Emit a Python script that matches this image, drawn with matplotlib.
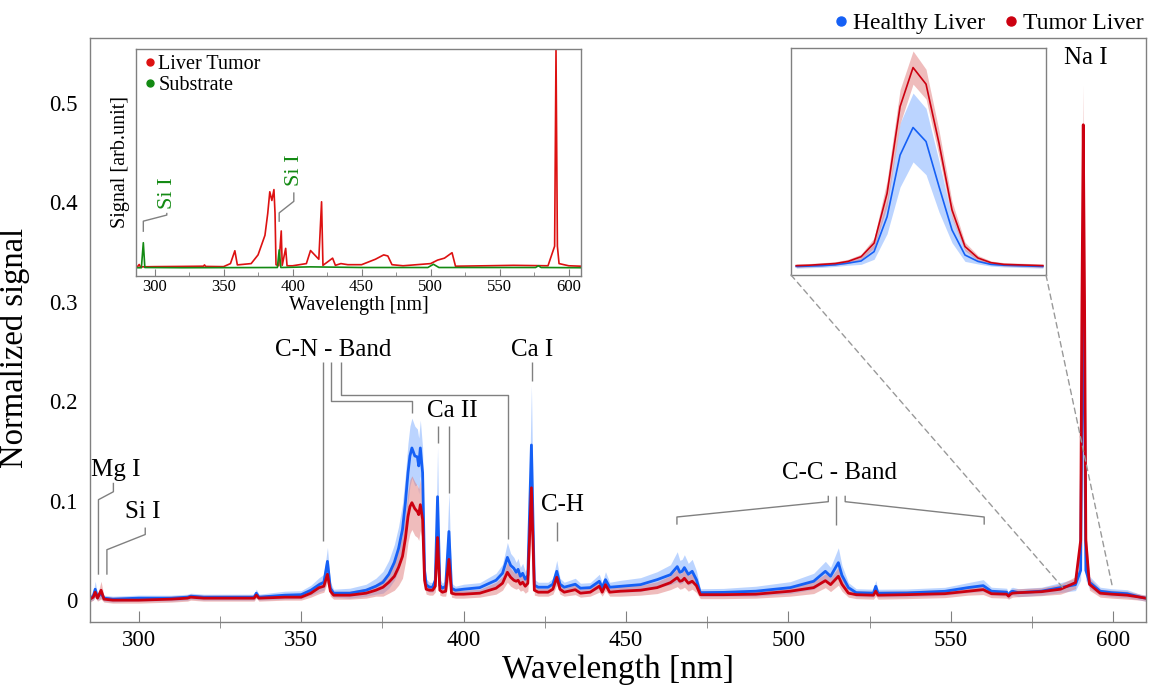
import numpy as np
import matplotlib
matplotlib.use("Agg")
import matplotlib.pyplot as plt
from matplotlib.lines import Line2D
from matplotlib.patches import ConnectionPatch

plt.rcParams['font.family'] = ['Liberation Serif', 'DejaVu Serif']

# ---- main spectra: mean +/- std (normalized signal) ----
wl = [285.0, 286.0, 286.6, 287.3, 288.4, 289.3, 292.0, 300.0, 310.0, 315.0, 316.0, 320.0, 330.0, 335.5, 336.2, 337.0,
      345.0, 350.0, 353.0, 355.5, 357.0, 358.1, 359.0, 360.0, 365.0, 370.0, 373.0, 375.2, 377.0, 378.7, 380.0, 381.2,
      382.1, 382.9, 383.5, 384.1, 385.0, 385.8, 386.2, 386.7, 387.4, 388.0, 388.5, 389.5, 390.5, 391.3, 392.0, 392.7,
      393.5, 394.5, 395.5, 396.3, 397.5, 400.0, 405.0, 410.0, 412.0, 413.5, 414.5, 415.5, 416.2, 416.8, 417.5, 418.2,
      419.0, 419.8, 420.9, 421.8, 423.0, 426.0, 427.5, 428.7, 429.7, 431.0, 434.4, 436.0, 439.0, 441.8, 442.7, 443.7,
      445.0, 448.3, 454.5, 459.6, 463.7, 465.8, 466.6, 467.3, 468.0, 469.2, 470.4, 471.7, 472.9, 480.0, 490.0, 500.6,
      507.8, 511.4, 513.0, 515.4, 516.5, 518.5, 520.9, 526.2, 526.9, 527.6, 536.4, 548.2, 555.3, 560.0, 562.5, 567.2,
      567.8, 568.4, 569.0, 570.8, 577.9, 583.8, 588.4, 590.0, 590.4, 590.8, 591.2, 591.6, 592.7, 596.0, 599.5, 604.3,
      608.3, 610.0]
healthy = [0.002, 0.004, 0.011, 0.003, 0.007, 0.002, 0.001, 0.002, 0.002, 0.003, 0.004, 0.003, 0.003, 0.003, 0.007, 0.003,
           0.005, 0.0055, 0.010, 0.0155, 0.018, 0.039, 0.012, 0.007, 0.007, 0.010, 0.014, 0.018, 0.026, 0.038, 0.052, 0.071,
           0.098, 0.128, 0.145, 0.153, 0.145, 0.144, 0.135, 0.153, 0.128, 0.030, 0.0156, 0.013, 0.013, 0.020, 0.104, 0.015,
           0.012, 0.014, 0.069, 0.012, 0.010, 0.011, 0.0126, 0.020, 0.027, 0.043, 0.035, 0.032, 0.028, 0.031, 0.024, 0.027,
           0.021, 0.025, 0.156, 0.015, 0.013, 0.013, 0.016, 0.029, 0.016, 0.013, 0.016, 0.012, 0.0126, 0.019, 0.0126, 0.0206,
           0.013, 0.0139, 0.0156, 0.0206, 0.0256, 0.0337, 0.028, 0.029, 0.0327, 0.026, 0.029, 0.0206, 0.0075, 0.0078, 0.009, 0.0126,
           0.019, 0.029, 0.024, 0.0377, 0.025, 0.0126, 0.0075, 0.007, 0.0139, 0.007, 0.0072, 0.0089, 0.0126, 0.0146, 0.009, 0.008,
           0.0045, 0.008, 0.009, 0.0075, 0.009, 0.0126, 0.0156, 0.030, 0.200, 0.339, 0.200, 0.030, 0.018, 0.009, 0.0075, 0.0065,
           0.003, 0.002]
healthy_sd = [0.003, 0.004, 0.008, 0.003, 0.005, 0.003, 0.003, 0.003, 0.003, 0.003, 0.003, 0.003, 0.003, 0.003, 0.004, 0.003,
              0.004, 0.004, 0.005, 0.007, 0.008, 0.014, 0.006, 0.004, 0.005, 0.006, 0.008, 0.011, 0.014, 0.018, 0.022, 0.026,
              0.028, 0.030, 0.030, 0.030, 0.030, 0.028, 0.028, 0.028, 0.025, 0.008, 0.006, 0.005, 0.005, 0.008, 0.050, 0.006,
              0.005, 0.006, 0.040, 0.005, 0.004, 0.005, 0.005, 0.007, 0.009, 0.015, 0.012, 0.011, 0.010, 0.011, 0.009, 0.010,
              0.008, 0.009, 0.060, 0.006, 0.005, 0.005, 0.006, 0.011, 0.006, 0.005, 0.006, 0.005, 0.005, 0.007, 0.005, 0.008,
              0.005, 0.006, 0.007, 0.008, 0.010, 0.015, 0.012, 0.012, 0.013, 0.011, 0.012, 0.009, 0.004, 0.004, 0.005, 0.006,
              0.008, 0.010, 0.009, 0.015, 0.010, 0.005, 0.004, 0.004, 0.006, 0.004, 0.004, 0.004, 0.005, 0.006, 0.004, 0.004,
              0.003, 0.004, 0.004, 0.004, 0.004, 0.005, 0.006, 0.010, 0.050, 0.080, 0.050, 0.010, 0.006, 0.004, 0.004, 0.004,
              0.003, 0.003]
tumor = [0.001, 0.003, 0.008, 0.002, 0.010, 0.001, 0.000, 0.000, 0.001, 0.002, 0.003, 0.002, 0.002, 0.002, 0.005, 0.002,
         0.003, 0.003, 0.007, 0.0125, 0.014, 0.026, 0.009, 0.005, 0.005, 0.007, 0.010, 0.013, 0.018, 0.024, 0.033, 0.044,
         0.062, 0.084, 0.094, 0.098, 0.092, 0.089, 0.086, 0.096, 0.081, 0.020, 0.011, 0.010, 0.010, 0.014, 0.063, 0.010,
         0.008, 0.009, 0.041, 0.007, 0.006, 0.006, 0.007, 0.012, 0.017, 0.028, 0.023, 0.020, 0.019, 0.020, 0.016, 0.018,
         0.014, 0.017, 0.113, 0.010, 0.008, 0.008, 0.011, 0.023, 0.011, 0.008, 0.0105, 0.007, 0.008, 0.014, 0.008, 0.0156,
         0.008, 0.009, 0.010, 0.0126, 0.0176, 0.0226, 0.019, 0.0196, 0.022, 0.017, 0.019, 0.0146, 0.0055, 0.0055, 0.006, 0.009,
         0.0126, 0.0196, 0.0156, 0.024, 0.016, 0.007, 0.0055, 0.005, 0.009, 0.005, 0.0055, 0.0065, 0.009, 0.0106, 0.0065, 0.006,
         0.004, 0.006, 0.007, 0.0075, 0.0085, 0.011, 0.0176, 0.060, 0.300, 0.478, 0.300, 0.060, 0.016, 0.007, 0.006, 0.005,
         0.003, 0.002]
tumor_sd = [0.003, 0.003, 0.005, 0.003, 0.009, 0.003, 0.003, 0.003, 0.003, 0.003, 0.003, 0.003, 0.003, 0.003, 0.003, 0.003,
            0.003, 0.003, 0.004, 0.006, 0.006, 0.008, 0.005, 0.004, 0.004, 0.005, 0.006, 0.009, 0.011, 0.014, 0.018, 0.022,
            0.024, 0.026, 0.027, 0.027, 0.027, 0.026, 0.026, 0.026, 0.022, 0.007, 0.005, 0.005, 0.005, 0.006, 0.025, 0.005,
            0.004, 0.005, 0.020, 0.004, 0.004, 0.004, 0.004, 0.006, 0.007, 0.010, 0.009, 0.008, 0.008, 0.008, 0.007, 0.008,
            0.007, 0.008, 0.035, 0.005, 0.004, 0.004, 0.005, 0.008, 0.005, 0.004, 0.005, 0.004, 0.004, 0.006, 0.004, 0.006,
            0.004, 0.005, 0.005, 0.006, 0.007, 0.009, 0.008, 0.008, 0.009, 0.008, 0.008, 0.007, 0.004, 0.004, 0.004, 0.005,
            0.006, 0.007, 0.007, 0.009, 0.007, 0.004, 0.004, 0.004, 0.005, 0.004, 0.004, 0.004, 0.004, 0.005, 0.004, 0.004,
            0.003, 0.004, 0.004, 0.004, 0.004, 0.005, 0.006, 0.012, 0.035, 0.040, 0.035, 0.012, 0.006, 0.004, 0.004, 0.004,
            0.003, 0.003]

# ---- zoomed Na I peak ----
na_wl = [588.00, 588.25, 588.50, 588.75, 589.00, 589.25, 589.50, 589.75, 590.00, 590.25,
         590.50, 590.75, 591.00, 591.25, 591.50, 591.75, 592.00, 592.25, 592.50, 592.75]
na_healthy = [0.010, 0.011, 0.012, 0.014, 0.018, 0.023, 0.045, 0.127, 0.272, 0.337,
              0.304, 0.198, 0.096, 0.037, 0.022, 0.015, 0.013, 0.012, 0.011, 0.010]
na_healthy_sd = [0.004, 0.004, 0.004, 0.004, 0.005, 0.008, 0.018, 0.040, 0.075, 0.081,
                 0.078, 0.060, 0.030, 0.015, 0.006, 0.004, 0.004, 0.004, 0.004, 0.004]
na_tumor = [0.012, 0.013, 0.015, 0.017, 0.022, 0.033, 0.065, 0.182, 0.386, 0.478,
            0.439, 0.300, 0.143, 0.057, 0.030, 0.019, 0.015, 0.014, 0.013, 0.012]
na_tumor_sd = [0.004, 0.004, 0.004, 0.004, 0.005, 0.006, 0.012, 0.030, 0.040, 0.039,
               0.035, 0.030, 0.020, 0.010, 0.006, 0.004, 0.004, 0.004, 0.004, 0.004]

# ---- raw spectra inset ----
raw_wl = [286.5, 288.0, 288.9, 289.8, 300.0, 320.0, 335.5, 336.2, 337.0, 350.0, 355.0, 358.2, 360.0, 370.0, 375.0,
          380.0, 382.0, 383.5, 385.0, 386.5, 387.3, 388.0, 390.0, 391.8, 392.5, 395.0, 396.0, 400.0, 410.0, 413.0,
          416.0, 419.0, 421.0, 422.0, 429.0, 431.0, 435.0, 440.0, 450.0, 460.0, 466.0, 469.0, 472.0, 480.0, 500.0,
          505.0, 510.0, 515.5, 518.0, 540.0, 560.0, 585.0, 589.8, 590.8, 591.8, 593.0, 600.0, 609.0]
raw_tumor = [0.006, 0.008, 0.016, 0.005, 0.006, 0.007, 0.008, 0.014, 0.007, 0.006, 0.020, 0.079, 0.014, 0.020, 0.060,
             0.150, 0.250, 0.350, 0.310, 0.360, 0.250, 0.015, 0.010, 0.170, 0.012, 0.090, 0.010, 0.010, 0.020, 0.080,
             0.060, 0.040, 0.304, 0.012, 0.045, 0.012, 0.020, 0.015, 0.015, 0.040, 0.060, 0.055, 0.015, 0.010, 0.020,
             0.036, 0.045, 0.070, 0.008, 0.010, 0.012, 0.010, 0.100, 1.000, 0.100, 0.020, 0.010, 0.008]
sub_wl = [286.5, 290.5, 291.9, 293.0, 320.0, 389.0, 390.3, 391.5, 413.0, 450.0, 498.0, 502.0, 506.0, 576.0, 578.0,
          580.0, 609.0]
sub_signal = [0.001, 0.001, 0.116, 0.002, 0.001, 0.002, 0.083, 0.002, 0.005, 0.002, 0.002, 0.017, 0.002, 0.002, 0.010,
              0.002, 0.001]

blue, blue_fill = '#1560f5', '#8fb8ff'
red, red_fill = '#cc0010', '#e07a7a'
green = '#138a13'
grey = '#808080'

fig = plt.figure(figsize=(11.6, 6.95), dpi=100)
ax = fig.add_axes([0.0776, 0.105, 0.910, 0.840])

wl_a = np.array(wl)
ax.fill_between(wl_a, np.array(healthy) - healthy_sd, np.array(healthy) + healthy_sd,
                color=blue_fill, alpha=0.6, lw=0)
ax.fill_between(wl_a, np.array(tumor) - tumor_sd, np.array(tumor) + tumor_sd,
                color=red_fill, alpha=0.5, lw=0)
ax.plot(wl, healthy, color=blue, lw=2.0)
ax.plot(wl, tumor, color=red, lw=2.0)

ax.set_xlim(285, 610)
ax.set_ylim(-0.022, 0.565)
ax.set_xticks([300, 350, 400, 450, 500, 550, 600])
ax.set_xticks([325, 375, 425, 475, 525, 575], minor=True)
ax.set_yticks([0, 0.1, 0.2, 0.3, 0.4, 0.5])
ax.set_yticklabels(['0', '0.1', '0.2', '0.3', '0.4', '0.5'])
ax.tick_params(axis='x', which='major', direction='in', length=8, color=grey, labelsize=16.5, pad=6)
ax.tick_params(axis='x', which='minor', direction='inout', length=8, color=grey)
ax.tick_params(axis='y', length=0, labelsize=16.5, pad=9)
for s in ax.spines.values():
    s.set_color(grey)
    s.set_linewidth(1.0)
ax.set_xlabel('Wavelength [nm]', fontsize=24, labelpad=2)
ax.set_ylabel('Normalized signal', fontsize=23.5)
ax.yaxis.set_label_coords(-0.057, 0.47)

# peak labels with leader lines
def leader(xs, ys):
    ax.plot(xs, ys, color=grey, lw=1.0, solid_capstyle='butt', clip_on=False)

fs = 18
ax.text(292.8, 0.131, 'Mg I', fontsize=fs, ha='center', va='center')
leader([287.6, 287.6, 292.2, 292.2], [0.0256, 0.101, 0.109, 0.118])
ax.text(301.2, 0.089, 'Si I', fontsize=fs, ha='center', va='center')
leader([290.2, 290.2, 302.0, 302.0], [0.0256, 0.0507, 0.066, 0.073])
ax.text(360.0, 0.252, 'C-N - Band', fontsize=fs, ha='center', va='center')
leader([356.6, 356.6], [0.239, 0.059])
leader([359.3, 359.3, 384.1, 384.1], [0.239, 0.1998, 0.1998, 0.188])
leader([362.3, 362.3, 413.8, 413.8], [0.239, 0.206, 0.206, 0.061])
ax.text(396.5, 0.190, 'Ca II', fontsize=fs, ha='center', va='center')
leader([392.0, 392.0], [0.175, 0.158])
leader([395.5, 395.5], [0.175, 0.108])
ax.text(421.2, 0.252, 'Ca I', fontsize=fs, ha='center', va='center')
leader([421.2, 421.2], [0.239, 0.220])
ax.text(430.6, 0.096, 'C-H', fontsize=fs, ha='center', va='center')
leader([428.8, 428.8], [0.079, 0.059])
ax.text(515.7, 0.128, 'C-C - Band', fontsize=fs, ha='center', va='center')
leader([512.3, 512.3, 465.7, 465.7], [0.105, 0.099, 0.0836, 0.0759])
leader([514.8, 514.8], [0.105, 0.0759])
leader([517.5, 517.5, 560.3, 560.3], [0.105, 0.099, 0.0836, 0.0759])
ax.text(591.5, 0.545, 'Na I', fontsize=fs, ha='center', va='center')

# legend above the axes
handles = [Line2D([], [], ls='', marker='o', color=blue, markersize=6.5),
           Line2D([], [], ls='', marker='o', color=red, markersize=6.5)]
fig.legend(handles, ['Healthy Liver', 'Tumor Liver'], loc='upper right', bbox_to_anchor=(1.004, 1.012),
           ncol=2, frameon=False, fontsize=17, handletextpad=0.0, columnspacing=0.6, handlelength=1.0)

# raw spectra inset
ins = fig.add_axes([136 / 1160, 1 - 276 / 695, 445 / 1160, 227 / 695])
ins.plot(raw_wl, raw_tumor, color='#dd1111', lw=1.2)
ins.plot(sub_wl, sub_signal, color=green, lw=1.2)
ins.set_xlim(286.6, 608.9)
ins.set_ylim(-0.037, 1.006)
ins.set_xticks([300, 350, 400, 450, 500, 550, 600])
ins.set_xticks([325, 375, 425, 475, 525, 575], minor=True)
ins.set_yticks([])
ins.tick_params(axis='x', which='major', direction='in', length=5, color=grey, labelsize=12, pad=2)
ins.tick_params(axis='x', which='minor', direction='in', length=3, color=grey)
for s in ins.spines.values():
    s.set_color(grey)
    s.set_linewidth(1.0)
ins.set_xlabel('Wavelength [nm]', fontsize=14.5, labelpad=1)
ins.set_ylabel('Signal [arb.unit]', fontsize=14.5, labelpad=4)
ins_handles = [Line2D([], [], ls='', marker='o', color='#dd1111', markersize=5),
               Line2D([], [], ls='', marker='o', color=green, markersize=5)]
ins.legend(ins_handles, ['Liver Tumor', 'Substrate'], loc='upper left', frameon=False, fontsize=14.5,
           handletextpad=0.0, handlelength=0.8, borderaxespad=0.1, labelspacing=0.1, borderpad=0.2)
ins.plot([291.9, 291.9, 308.9, 308.9], [0.169, 0.215, 0.243, 0.25], color=grey, lw=1.0)
ins.text(309.5, 0.344, 'Si I', color=green, fontsize=16, rotation=90, ha='center', va='center')
ins.plot([390.3, 390.3, 400.9, 400.9], [0.215, 0.253, 0.306, 0.344], color=grey, lw=1.0)
ins.text(401.5, 0.45, 'Si I', color=green, fontsize=16, rotation=90, ha='center', va='center')

# zoom on Na I
zin = fig.add_axes([791 / 1160, 1 - 275 / 695, 255 / 1160, 227 / 695])
zin.fill_between(na_wl, np.array(na_healthy) - na_healthy_sd, np.array(na_healthy) + na_healthy_sd,
                 color=blue_fill, alpha=0.6, lw=0)
zin.fill_between(na_wl, np.array(na_tumor) - na_tumor_sd, np.array(na_tumor) + na_tumor_sd,
                 color=red_fill, alpha=0.5, lw=0)
zin.plot(na_wl, na_healthy, color=blue, lw=1.2)
zin.plot(na_wl, na_tumor, color=red, lw=1.2)
zin.set_xlim(587.9, 592.81)
zin.set_ylim(-0.010, 0.524)
zin.set_xticks([])
zin.set_yticks([])
for s in zin.spines.values():
    s.set_color(grey)
    s.set_linewidth(1.0)

zoom_lo, zoom_hi, zoom_y = 584.4, 599.8, 0.013
for corner, xb in [((0, 0), zoom_lo), ((1, 0), zoom_hi)]:
    con = ConnectionPatch(xyA=corner, coordsA=zin.transAxes, xyB=(xb, zoom_y), coordsB=ax.transData,
                          color='#999999', lw=1.0, ls=(0, (4, 3)))
    fig.add_artist(con)

plt.savefig('out.png', dpi=100)
